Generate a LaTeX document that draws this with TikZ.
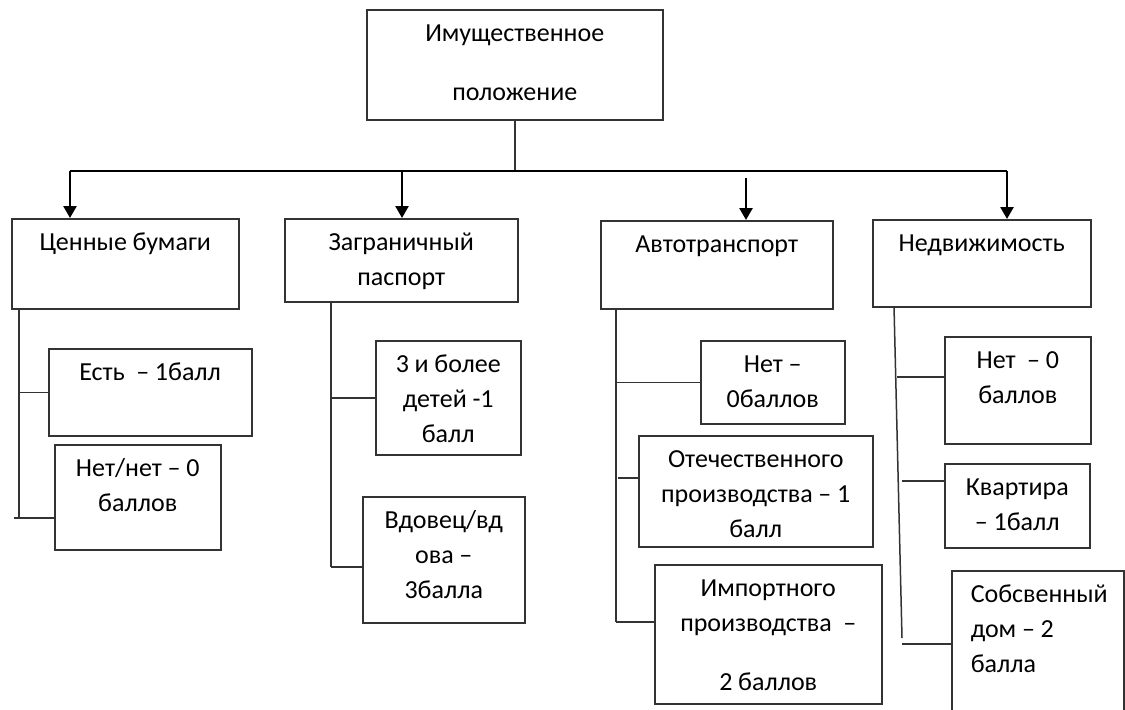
\documentclass[tikz,border=0pt]{standalone}
\usepackage{fontspec}
\setmainfont{Carlito}
\usepackage{tikz}
\usetikzlibrary{positioning}
\usetikzlibrary{positioning,arrows.meta}

\begin{document}
\begin{tikzpicture}[
  x=0.5pt, y=-0.5pt,
  box/.style={
    draw=black!80,
    line width=0.75pt,
    anchor=north west,
    align=center,
    inner xsep=0pt,
    inner ysep=0pt,
    text height=16pt,
    font=\fontsize{13}{17.5}\selectfont,
    execute at begin node={\spaceskip=0.22em\relax}
  },
  ln/.style={draw=black!80, line width=0.75pt},
  arr/.style={-{Triangle[length=6pt,width=6.5pt]}, line width=1.3pt}
]

\useasboundingbox (0,0) rectangle (1125,709);

\node (imu) [box, text width=148pt, text depth=39pt] at (366,9) {
Имущественное\\[12pt]
положение
};

\node (cb) [box, text width=113.5pt, text depth=29pt] at (11,218) {
Ценные бумаги
};

\node (zp) [box, text width=116.5pt, text depth=25.5pt] at (284,218) {
Заграничный\\
паспорт
};

\node (at) [box, text width=116pt, text depth=28pt] at (600,220) {
Автотранспорт
};

\node (nd) [box, text width=109pt, text depth=27.5pt] at (872,219) {
Недвижимость
};

\node (e1) [box, text width=101.5pt, text depth=27.5pt] at (48,348) {
Есть\ \ – 1балл
};

\node (n1) [box, text width=83pt, text depth=36.5pt] at (54,444) {
Нет/нет – 0\\
баллов
};

\node (d3) [box, text width=72.5pt, text depth=41pt] at (375,340) {
3 и более\\
детей -1\\
балл
};

\node (vd) [box, text width=81pt, text depth=47pt] at (362,496) {
Вдовец/вд\\
ова –\\
3балла
};

\node (n3) [box, text width=72pt, text depth=25.5pt] at (700,340) {
Нет –\\
0баллов
};

\node (ot) [box, text width=117pt, text depth=39.5pt] at (638,435) {
Отечественного\\
производства – 1\\
балл
};

\node (im) [box, text width=113.5pt, text depth=53.5pt] at (654,564) {
Импортного\\
производства\ \ –\\[12pt]
2 баллов
};

\node (n4) [box, text width=73pt, text depth=37.5pt] at (944,336) {
Нет\ \ – 0\\
баллов
};

\node (kv) [box, text width=72.5pt, text depth=26pt] at (944,463) {
Квартира\\
– 1балл
};

\node (sd) [box, align=left, inner xsep=9.5pt, text width=67pt, text depth=69pt] at (951,570) {
Собсвенный\\
дом – 2\\
балла
};

\coordinate (bl) at (70,171);
\coordinate (br) at (1007,171);
\coordinate (a2) at (402,171);
\coordinate (a3) at (746,178);

\draw[ln] (imu.south) -- (imu.south |- bl);
\draw[line width=1pt] (bl) -- (br);
\draw[arr] (bl) -- (bl |- cb.north);
\draw[arr] (a2) -- (a2 |- zp.north);
\draw[arr] (a3) -- (a3 |- at.north);
\draw[arr] (br) -- (br |- nd.north);

\coordinate (c1) at (19,517);
\coordinate (c1b) at (14,518);
\draw[ln] (c1 |- cb.south) -- (c1);
\draw[ln] (c1 |- e1.west) -- (e1.west);
\draw[ln] (c1b) -- (c1b -| n1.west);

\coordinate (c2) at (331,567);
\draw[ln] (c2 |- zp.south) -- (c2);
\draw[ln] (c2 |- d3.west) -- (d3.west);
\draw[ln] (c2) -- (c2 -| vd.west);

\coordinate (c3) at (616,622);
\coordinate (c3b) at (618,478);
\draw[ln] (c3 |- at.south) -- (c3);
\draw[ln] (c3 |- n3.west) -- (n3.west);
\draw[ln] (c3b) -- (c3b -| ot.west);
\draw[ln] (c3) -- (c3 -| im.west);

\coordinate (c4t) at (894,306);
\coordinate (c4) at (902,638);
\coordinate (c4a) at (897,377);
\coordinate (c4b) at (902,481);
\coordinate (c4c) at (902,644);
\draw[ln] (c4t) -- (c4);
\draw[ln] (c4a) -- (c4a -| n4.west);
\draw[ln] (c4b) -- (c4b -| kv.west);
\draw[ln] (c4c) -- (c4c -| sd.west);

\end{tikzpicture}
\end{document}
